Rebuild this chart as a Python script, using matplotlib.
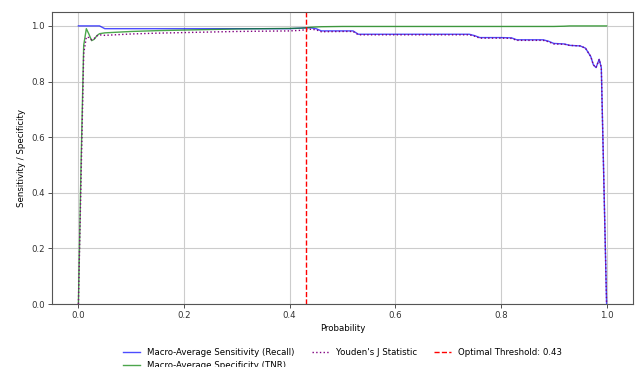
import matplotlib
matplotlib.use("Agg")
import matplotlib.pyplot as plt

# Probability thresholds and the macro-averaged metrics evaluated at each
thresholds = [0.0, 0.005, 0.01, 0.015, 0.02, 0.025, 0.03, 0.035, 0.04, 0.05,
              0.06, 0.08, 0.1, 0.15, 0.2, 0.25, 0.3, 0.35, 0.4, 0.42,
              0.43, 0.44, 0.45, 0.46, 0.5, 0.52, 0.53, 0.55, 0.6, 0.65,
              0.7, 0.74, 0.75, 0.76, 0.8, 0.82, 0.83, 0.85, 0.88, 0.89,
              0.9, 0.92, 0.93, 0.95, 0.96, 0.97, 0.975, 0.98, 0.986, 0.99,
              1.0]

sensitivity = [1.0, 1.0, 1.0, 1.0, 1.0, 1.0, 1.0, 1.0, 1.0, 0.99,
               0.99, 0.99, 0.99, 0.99, 0.99, 0.99, 0.99, 0.99, 0.99, 0.992,
               0.993, 0.993, 0.99, 0.982, 0.982, 0.982, 0.97, 0.97, 0.97, 0.97,
               0.97, 0.97, 0.965, 0.958, 0.958, 0.957, 0.95, 0.95, 0.95, 0.945,
               0.937, 0.935, 0.93, 0.928, 0.92, 0.89, 0.86, 0.85, 0.88, 0.85,
               0.0]

specificity = [0.0, 0.5, 0.93, 0.99, 0.97, 0.947, 0.952, 0.965, 0.972, 0.975,
               0.976, 0.978, 0.98, 0.983, 0.985, 0.987, 0.989, 0.99, 0.991, 0.992,
               0.993, 0.995, 0.996, 0.997, 0.998, 0.998, 0.998, 0.998, 0.998, 0.998,
               0.998, 0.998, 0.998, 0.998, 0.998, 0.998, 0.998, 0.998, 0.998, 0.998,
               0.998, 0.999, 1.0, 1.0, 1.0, 1.0, 1.0, 1.0, 1.0, 1.0,
               1.0]

youden_j = [0.0, 0.45, 0.9, 0.96, 0.958, 0.95, 0.955, 0.964, 0.968, 0.966,
            0.967, 0.969, 0.971, 0.974, 0.976, 0.978, 0.98, 0.981, 0.982, 0.984,
            0.986, 0.988, 0.986, 0.979, 0.98, 0.98, 0.968, 0.968, 0.968, 0.968,
            0.968, 0.968, 0.963, 0.956, 0.956, 0.955, 0.948, 0.948, 0.948, 0.943,
            0.935, 0.934, 0.93, 0.928, 0.92, 0.89, 0.86, 0.85, 0.88, 0.85,
            0.0]

optimal_threshold = 0.43

fig = plt.figure(figsize=(6.39, 3.67), dpi=100)
ax = fig.add_axes([52 / 639, 1 - 304 / 367, (633 - 52) / 639, (304 - 12) / 367])

fs = 6.2
ax.plot(thresholds, sensitivity, color="blue", alpha=0.7, lw=1.0,
        label="Macro-Average Sensitivity (Recall)")
ax.plot(thresholds, specificity, color="green", alpha=0.7, lw=1.0,
        label="Macro-Average Specificity (TNR)")
ax.plot(thresholds, youden_j, color="purple", linestyle=":", lw=1.0,
        label="Youden's J Statistic")
ax.axvline(optimal_threshold, color="red", linestyle="--", lw=1.0,
           label=f"Optimal Threshold: {optimal_threshold:.2f}")

ax.set_xlim(-0.05, 1.05)
ax.set_ylim(0.0, 1.05)
ax.set_xticks([0.0, 0.2, 0.4, 0.6, 0.8, 1.0])
ax.set_yticks([0.0, 0.2, 0.4, 0.6, 0.8, 1.0])
ax.grid(True, color="#cccccc", lw=0.8)
ax.tick_params(labelsize=fs, length=3, width=0.6, pad=2, colors="#333333")
for s in ax.spines.values():
    s.set_color("#555555")
    s.set_linewidth(0.8)

ax.set_xlabel("Probability", fontsize=fs, labelpad=3)
ax.set_ylabel("Sensitivity / Specificity", fontsize=fs, labelpad=4)

fig.legend(loc="upper center", bbox_to_anchor=(342.5 / 639, 1 - 344.5 / 367),
           ncol=3, fontsize=fs, frameon=False, borderaxespad=0)

fig.savefig("out.png", dpi=100)
